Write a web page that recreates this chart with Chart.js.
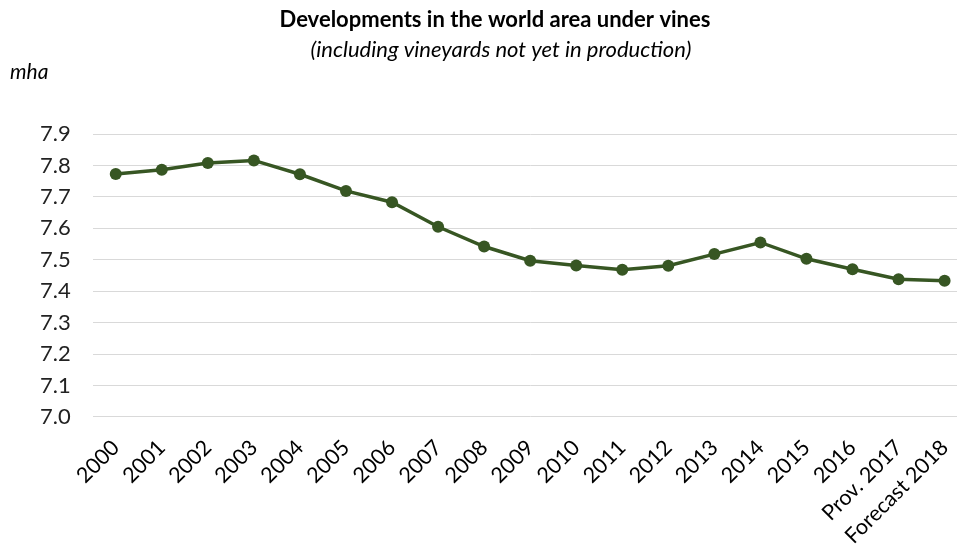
<!DOCTYPE html>
<html>
<head>
<meta charset="utf-8">
<script src="https://cdn.jsdelivr.net/npm/chart.js@4.4.1/dist/chart.umd.min.js"></script>
<style>
  html, body { margin: 0; padding: 0; background: #fff; overflow: hidden; }
  #wrap { width: 981px; height: 544px; }
</style>
</head>
<body>
<div id="wrap"><canvas id="c" width="981" height="544"></canvas></div>
<script>
const categories = ["2000","2001","2002","2003","2004","2005","2006","2007","2008","2009","2010","2011","2012","2013","2014","2015","2016","Prov. 2017","Forecast 2018"];
const areaValues = [7.773,7.786,7.808,7.816,7.772,7.719,7.683,7.605,7.542,7.497,7.482,7.468,7.481,7.518,7.555,7.503,7.470,7.438,7.433];
const yTicks = [7.0,7.1,7.2,7.3,7.4,7.5,7.6,7.7,7.8,7.9];
const titleText = "Developments in the world area under vines";
const subtitleText = "(including vineyards not yet in production)";
const unitText = "mha";

const FONT = "Lato, 'Open Sans', sans-serif";

const textPlugin = {
  id: 'texts',
  afterDraw(chart) {
    const ctx = chart.ctx;
    ctx.save();
    ctx.fillStyle = '#000';
    ctx.textAlign = 'center';
    ctx.textBaseline = 'middle';
    ctx.font = "bold 22px " + FONT;
    ctx.fillText(titleText, 495, 20);
    ctx.font = "italic 22px " + FONT;
    ctx.fillText(subtitleText, 501, 50);
    ctx.textAlign = 'left';
    ctx.font = "italic 21px " + FONT;
    ctx.fillText(unitText, 10, 72);
    ctx.restore();
  }
};

new Chart(document.getElementById('c'), {
  type: 'line',
  data: {
    labels: categories,
    datasets: [{
      data: areaValues,
      borderColor: '#375623',
      backgroundColor: '#375623',
      borderWidth: 3.5,
      pointRadius: 6,
      pointBorderWidth: 0,
      pointBackgroundColor: '#375623',
      tension: 0,
      fill: false
    }]
  },
  options: {
    responsive: false,
    animation: false,
    layout: { padding: { top: 134, left: 18, right: 0, bottom: -23 } },
    plugins: { legend: { display: false }, tooltip: { enabled: false } },
    scales: {
      x: {
        offset: true,
        grid: { display: false, drawTicks: false },
        border: { display: false },
        ticks: {
          color: '#000',
          font: { family: FONT, size: 21.5 },
          minRotation: 45, maxRotation: 45,
          autoSkip: false,
          padding: 18
        }
      },
      y: {
        min: 7.0, max: 7.9,
        afterBuildTicks(axis) { axis.ticks = yTicks.map(v => ({ value: v })); },
        grid: { color: '#d9d9d9', lineWidth: 1, drawTicks: false },
        border: { display: false },
        ticks: {
          color: '#222',
          font: { family: FONT, size: 22 },
          padding: 22,
          callback: v => Number(v).toFixed(1)
        }
      }
    }
  },
  plugins: [textPlugin]
});
</script>
</body>
</html>
